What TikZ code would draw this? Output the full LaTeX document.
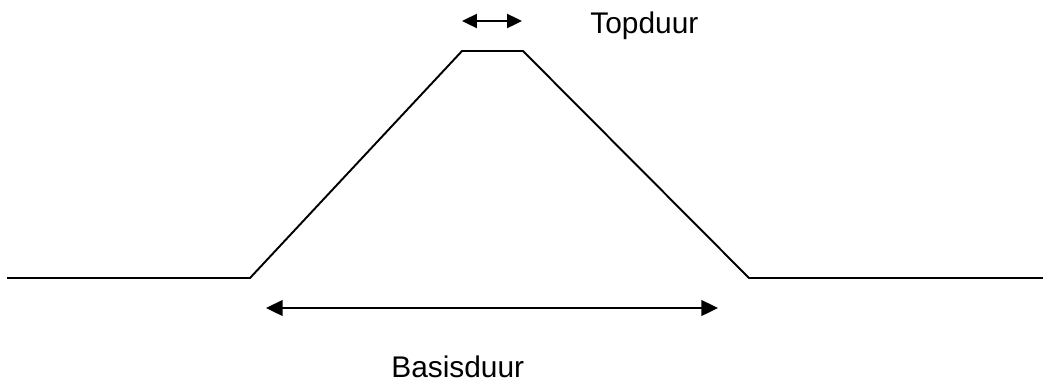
\documentclass[tikz,border=0pt]{standalone}
\usepackage{fontspec}
\setmainfont{Liberation Sans}
\usetikzlibrary{arrows.meta}
\tikzset{
	profiel/.style={line width=1.1pt,line join=miter},
	duur/.style={line width=1.1pt,{Triangle[length=9.5pt,width=9pt]}-{Triangle[length=9.5pt,width=9pt]}},
	duurklein/.style={line width=1.1pt,{Triangle[length=8.5pt,width=8pt]}-{Triangle[length=8.5pt,width=8pt]}},
	label/.style={inner sep=0pt,font=\fontsize{17}{20}\selectfont}
}
\begin{document}
\begin{tikzpicture}[x=0.02cm,y=-0.02cm]
	\useasboundingbox (0,0) rectangle (1043,383);
	% hydrogram
	\coordinate (begin) at (7,278);
	\coordinate (voet1) at (250,278);
	\coordinate (top1) at (462,51);
	\coordinate (top2) at (523,51);
	\coordinate (voet2) at (749,278);
	\coordinate (eind) at (1043,278);
	\draw[profiel] (begin) -- (voet1) -- (top1) -- (top2) -- (voet2) -- (eind);
	% duren
	\coordinate (ta) at (462,21);
	\coordinate (tb) at (522,21);
	\draw[duurklein] (ta) -- (tb);
	\node[label,anchor=base west] (topduur) at (590,33) {Topduur};
	\coordinate (ba) at (266,308);
	\coordinate (bb) at (718,308);
	\draw[duur] (ba) -- (bb);
	\node[label,anchor=base west] (basisduur) at (391,377) {Basisduur};
\end{tikzpicture}
\end{document}
